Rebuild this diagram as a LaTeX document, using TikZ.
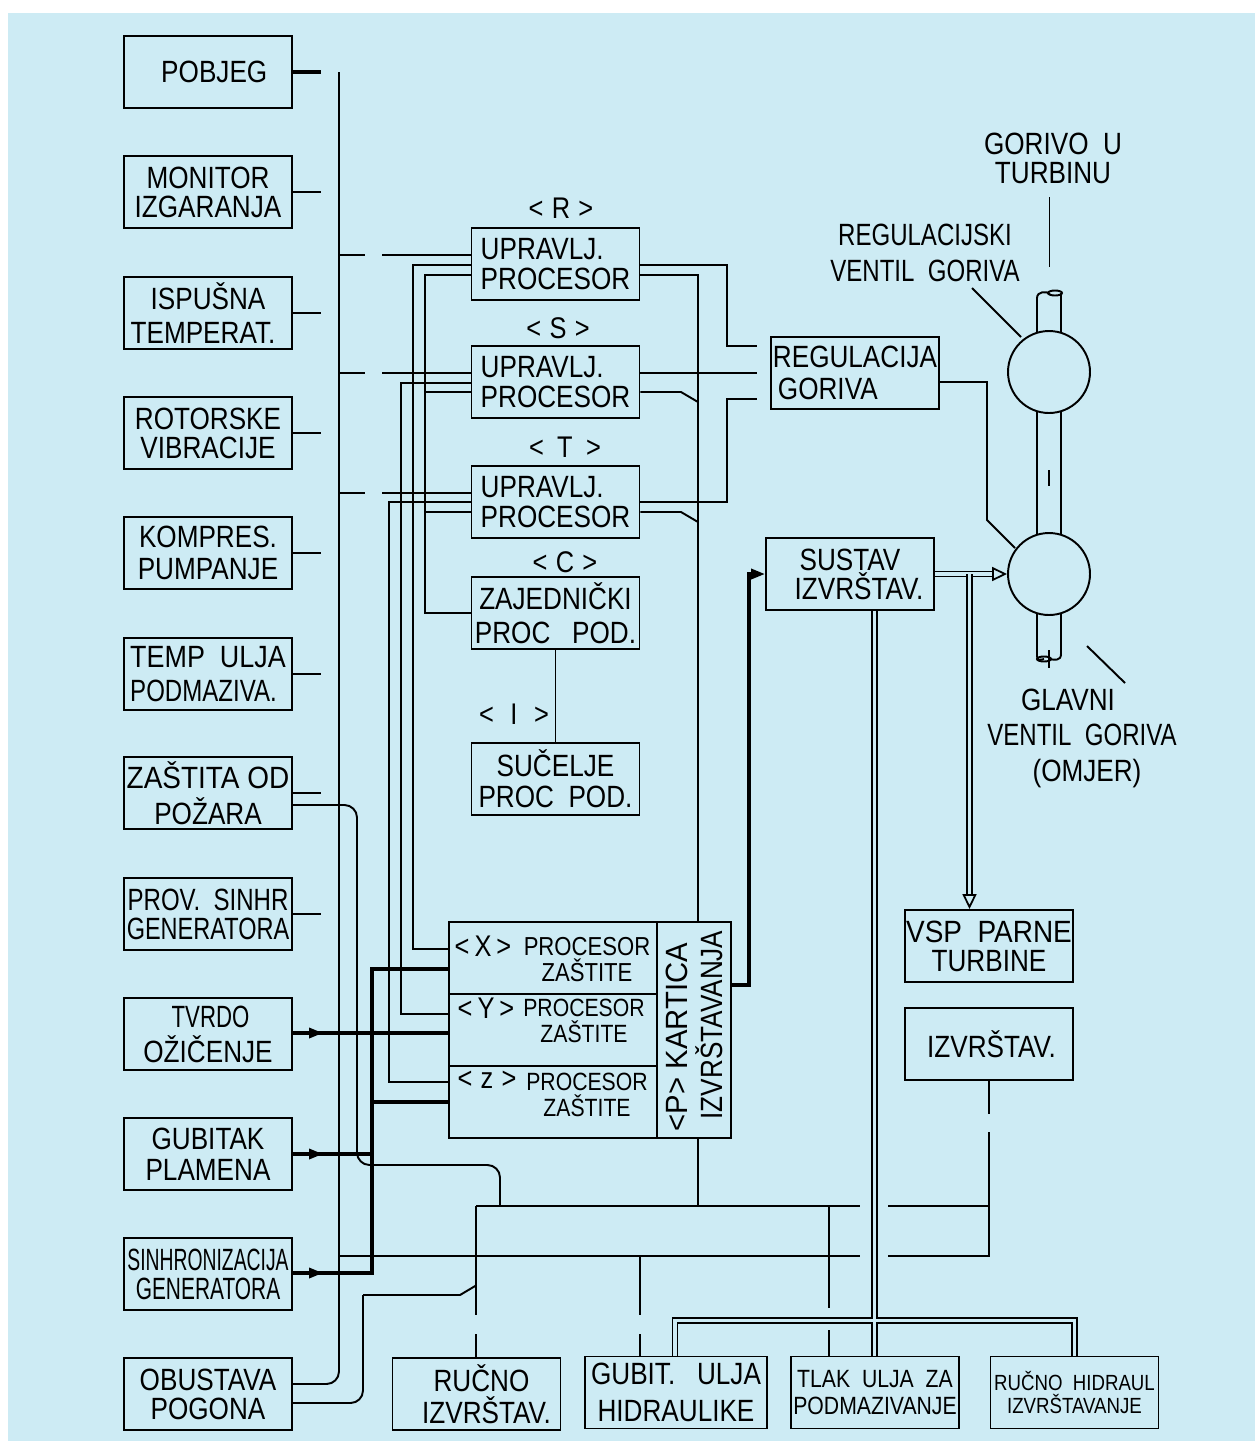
\documentclass[tikz,border=0pt]{standalone}
\usepackage{fontspec}
\setmainfont[FakeStretch=0.85]{Liberation Sans}
\usetikzlibrary{arrows.meta}
\definecolor{plate}{RGB}{205,235,244}
\newcommand{\cond}[2]{\scalebox{#1}[1]{#2}}
\begin{document}
\begin{tikzpicture}[x=0.02cm,y=-0.02cm,>=Stealth,line width=1.1pt,
 lab/.style={font=\fontsize{17.5}{16.5}\selectfont,align=center},
 labs/.style={font=\fontsize{14.8}{14.6}\selectfont,align=center},
 tag/.style={font=\fontsize{17}{17}\selectfont,align=center},
 free/.style={font=\fontsize{17.5}{16.5}\selectfont,align=center},
 unit/.style={draw,lab,inner sep=0pt,minimum width=3.36cm,minimum height=1.44cm},
 cell/.style={draw,inner sep=0pt,minimum width=4.16cm,minimum height=1.44cm},
 valve/.style={draw,circle,inner sep=0pt,minimum size=1.64cm},
 heavy/.style={line width=2.4pt},
 medium/.style={line width=1.9pt},
 wedge/.style={-{Triangle[length=0.28cm,width=0.2cm]}},
 dbl/.style={double=plate,double distance=1.8pt,line width=1pt},
 hollow/.style={-{Triangle[open,fill=plate,length=0.3cm,width=0.28cm,line width=1pt]}}]
\fill[plate] (8,13) rectangle (1255,1441);
\useasboundingbox (0,0) rectangle (1255,1441);
\node[unit] (pobjeg) at (208,72) {\hspace{0.25cm}POBJEG};
\node[unit] (monitor) at (208,192) {MONITOR\\IZGARANJA};
\node[unit] (ispusna) at (208,313) {ISPUŠNA\\[3pt]TEMPERAT.\hspace*{0.2cm}};
\node[unit] (rotor) at (208,433) {ROTORSKE\\VIBRACIJE};
\node[unit] (kompres) at (208,553) {KOMPRES.\\[2pt]PUMPANJE};
\node[unit,align=left] (tempulja) at (208,674) {\cond{1.03}{TEMP~~ULJA}\\[2.5pt]\cond{.92}{PODMAZIVA.}};
\node[unit] (zastita) at (208,793) {\cond{1.07}{ZAŠTITA OD}\\[4pt]POŽARA};
\node[unit] (provsin) at (208,914) {\cond{.92}{PROV.~~SINHR}\\\cond{.9}{GENERATORA}};
\node[unit] (tvrdo) at (208,1034) {\hspace{0.1cm}\cond{.85}{TVRDO}\\[3.5pt]OŽIČENJE};
\node[unit] (gubitak) at (208,1154) {GUBITAK\\[1pt]PLAMENA};
\node[unit] (sinhro) at (208,1274) {\cond{.74}{SINHRONIZACIJA}\\\cond{.8}{GENERATORA}};
\node[unit] (obustava) at (208,1394) {OBUSTAVA\\POGONA};
\node[tag] (tagR) at (561,208) {<\;R\;>};
\node[unit,align=left] (uprR) at (555.5,264) {UPRAVLJ.\\[1pt]PROCESOR};
\node[tag] (tagS) at (558,328) {<\;S\;>};
\node[unit,align=left] (uprS) at (555.5,382) {UPRAVLJ.\\[1pt]PROCESOR};
\node[tag] (tagT) at (565,447) {<\;\,T\;\,>};
\node[unit,align=left] (uprT) at (555.5,502) {UPRAVLJ.\\[1pt]PROCESOR};
\node[tag] (tagC) at (565,562) {<\;C\;>};
\node[unit] (zajed) at (555.5,613) {ZAJEDNIČKI\\[3pt]PROC~~~POD.};
\node[tag] (tagI) at (514,714) {<\;\;I\;\;>};
\node[unit] (sucelje) at (555.5,779) {SUČELJE\\[1pt]PROC~~POD.};
\node[unit,align=left] (regul) at (855,373) {REGULACIJA\\[2pt]\hspace{0.1cm}GORIVA};
\node[unit] (sustav) at (850,574) {SUSTAV\\\hspace{0.36cm}IZVRŠTAV.};
\node[unit] (vsp) at (989,946) {\cond{1.07}{VSP~~PARNE}\\TURBINE};
\node[unit] (izvrs) at (989,1044) {\hspace{0.1cm}IZVRŠTAV.};
\node[unit] (rucno) at (476.5,1394) {\hspace{0.2cm}RUČNO\\[2pt]\hspace{0.4cm}IZVRŠTAV.};
\node[unit,minimum width=3.64cm] (gubulja) at (676,1392.5) {GUBIT.~~~ULJA\\[5pt]HIDRAULIKE};
\node[unit,font=\fontsize{14.2}{15}\selectfont] (tlak) at (875,1392.5) {TLAK~~ULJA~~ZA\\PODMAZIVANJE};
\node[unit,font=\fontsize{12.5}{13}\selectfont] (hidraul) at (1074.5,1392.5) {RUČNO~~HIDRAUL\\IZVRŠTAVANJE};
\node[cell] (procX) at (553,958) {};
\node[cell] (procY) at (553,1030) {};
\node[cell] (procZ) at (553,1102) {};
\node[draw,lab,rotate=90,inner sep=0pt,minimum width=4.32cm,minimum height=1.48cm] (kartica) at (694,1030) {\cond{1.12}{<P>~KARTICA}\hspace*{0.28cm}\\[3.5pt]\hspace{0.2cm}IZVRŠTAVANJA};
\node[tag] (tagX) at (483,946) {<\,X\,>};
\node[labs] (textX) at (587,959.5) {PROCESOR\\ZAŠTITE};
\node[tag] (tagY) at (486,1008) {<\,Y\,>};
\node[labs,font=\fontsize{14.2}{14.4}\selectfont] (textY) at (584,1021) {PROCESOR\\ZAŠTITE};
\node[tag] (tagZ) at (487,1080) {<\;z\;>};
\node[labs,font=\fontsize{14.2}{14.4}\selectfont] (textZ) at (587,1095) {PROCESOR\\ZAŠTITE};
\node[free] (gorivo) at (1053,158.5) {GORIVO~~U\\TURBINU};
\node[free,font=\fontsize{17.5}{20.5}\selectfont] (regventil) at (925,253) {\cond{.92}{REGULACIJSKI}\\\cond{.92}{VENTIL~~GORIVA}};
\node[free,font=\fontsize{17.5}{20.2}\selectfont] (glavni) at (1082,738) {GLAVNI\hspace*{0.56cm}\\\cond{.92}{VENTIL~~GORIVA}\\\hspace{0.2cm}(OMJER)};
\node[valve] (ventilR) at (1049,372) {};
\node[valve] (ventilG) at (1049,574) {};
\draw (1037,333)--(1037,298) .. controls (1037,291) and (1047,291) .. (1050,294);
\draw (1055,293) ellipse [x radius=7,y radius=2.5];
\draw[line width=1.4pt] (1061,333)--(1061,293);
\draw (1037,411)--(1037,535);
\draw[line width=1.4pt] (1061,411)--(1061,535);
\draw (1037,613)--(1037,656) .. controls (1037,661) and (1040,660) .. (1044,659) ;
\draw (1061,613)--(1061,654) .. controls (1061,661) and (1055,660) .. (1049,659);
\draw (1044,659) ellipse [x radius=7,y radius=2.5];
\draw (1049,470)--(1049,486) (1049,650)--(1049,668) (1049.5,197)--(1049.5,267);
\draw (ventilR) ++(-77,-84) -- ++(49,49);
\draw (ventilG) ++(38,72) -- ++(38,37);
\draw[medium] (pobjeg.east)--++(28,0);
\draw (monitor.east)--++(28,0);
\draw (ispusna.east)--++(28,0);
\draw (rotor.east)--++(28,0);
\draw (kompres.east)--++(28,0);
\draw (tempulja.east)--++(28,0);
\draw (provsin.east)--++(28,0);
\draw (zastita.east)--++(28,0);
\draw[rounded corners=0.25cm] (obustava.east |- 0,1384)--(339,1384)--(339,72);
\draw (339,255)--(365,255) (382,255)--(uprR.west |- 0,255);
\draw (339,373)--(365,373) (382,373)--(uprS.west |- 0,373);
\draw (339,493)--(365,493) (382,493)--(uprT.west |- 0,493);
\draw (uprR.west |- 0,265)--(413,265)--(413,949)--(procX.west |- 0,949);
\draw (uprS.west |- 0,383)--(401,383)--(401,1014)--(procY.west |- 0,1014);
\draw (uprT.west |- 0,502)--(389,502)--(389,1082)--(procZ.west |- 0,1082);
\draw (uprR.west |- 0,275)--(425,275)--(425,613)--(zajed.west);
\draw (uprS.west |- 0,392)--(425,392);
\draw (uprT.west |- 0,512)--(425,512);
\draw (uprR.east |- 0,265)--(727,265)--(727,346)--(757,346);
\draw[line width=1.3pt] (uprS.east |- 0,373)--(757,373);
\draw (uprT.east |- 0,502)--(727,502)--(727,399)--(757,399);
\draw (uprR.east |- 0,275)--(698,275)--(kartica.east -| 698,0);
\draw (uprS.east |- 0,392)--(681,392)--(698,402);
\draw (uprT.east |- 0,512)--(681,512)--(698,522);
\draw (regul.east |- 0,382)--(987,382)--(987,520)--(1015,548);
\draw (zajed)--(sucelje);
\draw[heavy] (kartica.south |- 0,985)--(749,985)--(749,574)--(752,574);
\draw[medium,wedge] (749,574)--(sustav.west);
\draw[dbl,hollow] (sustav.east)--(ventilG.west);
\draw[dbl,hollow] (969.5,574)--(vsp.north -| 969.5,0);
\draw[dbl] (sustav.south -| 874.5,0)--(tlak.north -| 874.5,0)
 (gubulja.north -| 675,0)--(675,1320.5)--(1074.5,1320.5)--(hidraul.north -| 1074.5,0);
\draw[heavy] (sinhro.east |- 0,1273)--(372,1273)--(372,969)--(procX.west |- 0,969);
\draw[heavy] (372,1102)--(procZ.west |- 0,1102);
\draw[medium] (tvrdo.east |- 0,1033)--(procY.west |- 0,1033);
\draw[medium] (gubitak.east)--(372,1154);
\draw[medium,wedge] (tvrdo.east |- 0,1033)--(323,1033);
\draw[medium,wedge] (gubitak.east)--(323,1154);
\draw[medium,wedge] (sinhro.east |- 0,1273)--(323,1273);
\draw[rounded corners=0.25cm] (zastita.east |- 0,805)--(357,805)--(357,1165)--(500,1165)--(500,1206);
\draw (kartica.west -| 698,0)--(698,1206);
\draw (476,1206)--(860,1206) (888,1206)--(989,1206);
\draw (339,1256)--(860,1256) (888,1256)--(989,1256)--(989,1132);
\draw (izvrs.south)--(989,1114);
\draw (476,1206)--(476,1315) (476,1334)--(rucno.north -| 476,0);
\draw (640,1256)--(640,1315) (640,1334)--(gubulja.north -| 640,0);
\draw (829,1206)--(829,1308) (829,1330)--(tlak.north -| 829,0);
\draw[rounded corners=0.25cm] (obustava.east |- 0,1403)--(363,1403)--(363,1295);
\draw (363,1295)--(460,1295)--(476,1285.5);
\end{tikzpicture}
\end{document}
